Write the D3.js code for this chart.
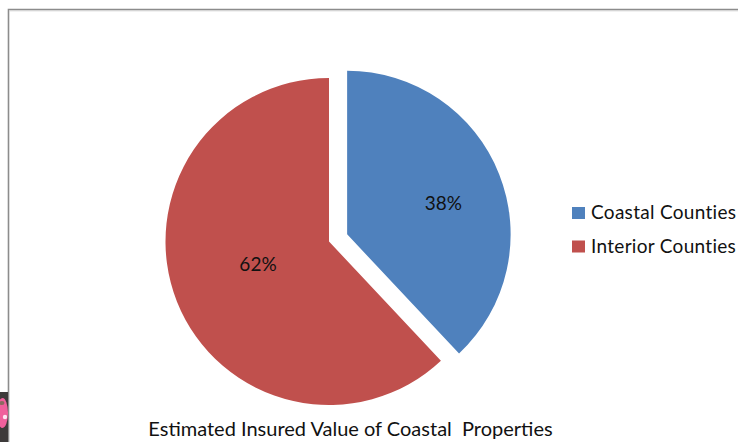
<!DOCTYPE html>
<html><head><meta charset="utf-8">
<script src="https://cdn.jsdelivr.net/npm/d3@7"></script>
<style>html,body{margin:0;padding:0;background:#fff}svg{display:block}text{font-family:Lato,"Open Sans",sans-serif;fill:#111}</style>
</head><body><div id="c"></div>
<script>
const categories = ["Coastal Counties", "Interior Counties"];
const values = [38, 62];
const colors = ["#4F81BD", "#C0504D"];
const title = "Estimated Insured Value of Coastal\u00A0 Properties";

const W = 738, H = 442;
const svg = d3.select("#c").append("svg").attr("width", W).attr("height", H);

// window frame
svg.append("path").attr("d", `M8.5,${H}V9.5H${W}`).attr("fill", "none").attr("stroke", "#8c8c8c").attr("stroke-width", 1.6);
svg.append("line").attr("x1", 9).attr("x2", W).attr("y1", 10.8).attr("y2", 10.8).attr("stroke", "#d0d0d0").attr("stroke-width", 1);

// corner thumbnail fragment
const thumb = svg.append("g");
thumb.append("rect").attr("x", 0).attr("y", 392).attr("width", 8).attr("height", 50).attr("fill", "#3d3a3a");
thumb.append("ellipse").attr("cx", 2.5).attr("cy", 413).attr("rx", 5.5).attr("ry", 15).attr("fill", "#f0609c");
thumb.append("ellipse").attr("cx", 2).attr("cy", 403).attr("rx", 2.5).attr("ry", 2).attr("fill", "#8a6a60");
thumb.append("circle").attr("cx", 5).attr("cy", 417).attr("r", 2.2).attr("fill", "#ffe6f2");

const pie = d3.pie().sort(null).value(d => d);
const r = 163.5;
const arc = d3.arc().innerRadius(0).outerRadius(r);
const cx = 329, cy = 241.5, explode = 19.5;
const arcs = pie(values);
const labelRadius = [101, 74.5];
const labelTurn = 4 * Math.PI / 180;

arcs.forEach((a, i) => {
  const mid = (a.startAngle + a.endAngle) / 2;
  const off = i === 0 ? explode : 0;
  const x = cx + off * Math.sin(mid), y = cy - off * Math.cos(mid);
  const g = svg.append("g").attr("transform", `translate(${x},${y})`);
  g.append("path").attr("d", arc(a)).attr("fill", colors[i]);
  const lr = labelRadius[i], la = mid + labelTurn;
  g.append("text").attr("x", lr * Math.sin(la)).attr("y", -lr * Math.cos(la))
    .attr("dy", "0.35em").attr("text-anchor", "middle").attr("font-size", 19)
    .text(values[i] + "%");
});

const legendY = d3.scalePoint().domain(categories).range([212.5, 246]);
categories.forEach((c, i) => {
  const y = legendY(c);
  svg.append("rect").attr("x", 572).attr("y", y - 5.5).attr("width", 13).attr("height", 12).attr("fill", colors[i]);
  svg.append("text").attr("x", 591).attr("y", y).attr("dy", "0.35em").attr("font-size", 19).attr("letter-spacing", 0.3).text(c);
});

svg.append("text").attr("x", 350.5).attr("y", 428.5).attr("dy", "0.35em").attr("text-anchor", "middle").attr("font-size", 20).text(title);
</script></body></html>
